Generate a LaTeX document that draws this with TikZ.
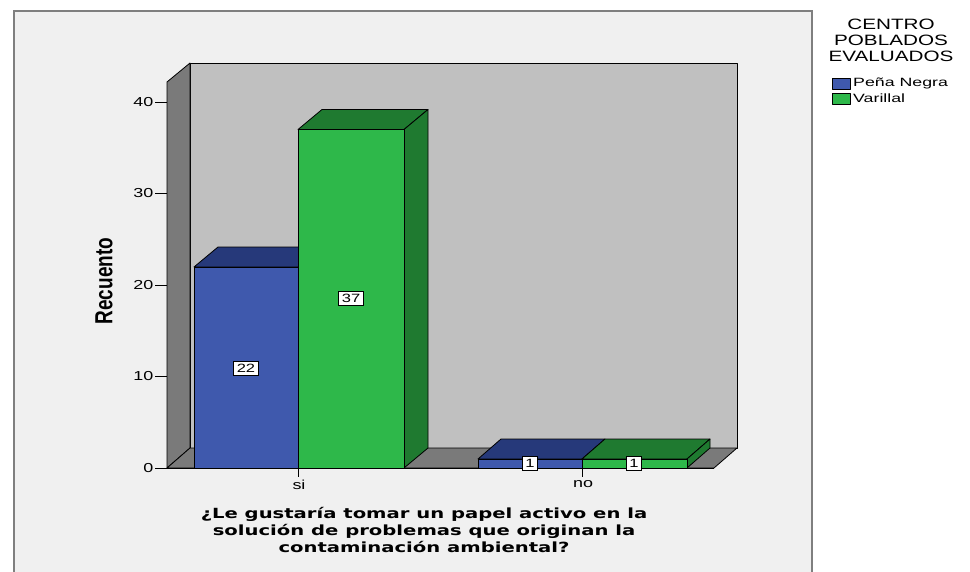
\documentclass[tikz,border=0pt]{standalone}
\usepackage{fontspec}
\setmainfont{Liberation Sans}
\newfontfamily\titlefont{DejaVu Sans}
\newcommand\sx[1]{\scalebox{1.38}[1]{#1}}
\begin{document}
\begin{tikzpicture}[x=1pt,y=-1pt,
  outl/.style={draw=black,line width=0.8pt,line join=round},
  wall/.style={outl,fill=wallgray},
  sidewall/.style={outl,fill=sidegray},
  bluefront/.style={outl,fill=bfront},
  bluedark/.style={outl,fill=bdark},
  greenfront/.style={outl,fill=gfront},
  greendark/.style={outl,fill=gdark},
  vallabel/.style={draw=black,fill=white,line width=0.6pt,inner xsep=3pt,inner ysep=3pt,font=\fontsize{12}{12}\selectfont},
  ticklab/.style={anchor=east,inner sep=1.5pt,font=\fontsize{13}{13}\selectfont},
  catlab/.style={anchor=north,inner sep=1pt,font=\fontsize{13}{13}\selectfont},
  legtext/.style={anchor=west,inner sep=1pt,font=\fontsize{12}{13}\selectfont}
]
\definecolor{framebg}{HTML}{F0F0F0}
\definecolor{wallgray}{HTML}{C0C0C0}
\definecolor{sidegray}{HTML}{7A7A7A}
\definecolor{bfront}{HTML}{3F59AD}
\definecolor{bdark}{HTML}{26397A}
\definecolor{gfront}{HTML}{2EB84A}
\definecolor{gdark}{HTML}{1F7A30}
\definecolor{framecol}{HTML}{7F7F7F}
\useasboundingbox (0,0) rectangle (970,571);
\fill[white] (0,0) rectangle (970,571);
% chart frame
\fill[framebg] (14,11) rectangle (812,575);
\draw[framecol,line width=1.5pt] (14,575) -- (14,11) -- (812,11) -- (812,575);
% back wall
\path[wall] (190,63) rectangle (737,448);
% side wall
\path[sidewall] (167,82) -- (190,63) -- (190,448) -- (167,468) -- cycle;
% floor
\path[sidewall] (167,468) -- (190,448) -- (737,448) -- (714,468) -- cycle;
% axis ticks
\foreach \v/\yy in {0/468,10/376.5,20/285,30/193.5,40/102}{
  \draw[line width=0.8pt] (155,\yy) -- (167,\yy);
  \node[ticklab] (t\v) at (155,\yy) {\sx{\v}};
}
% Peña Negra si (22)
\path[bluedark] (194,267) -- (218,247) -- (322,247) -- (298,267) -- cycle;
\path[bluefront] (194,267) rectangle (298,468);
% Varillal si (37)
\path[greendark] (298,129.5) -- (322,109.5) -- (428,109.5) -- (404,129.5) -- cycle;
\path[greendark] (404,129.5) -- (428,109.5) -- (428,448) -- (404,468) -- cycle;
\path[greenfront] (298,129.5) rectangle (404,468);
% "no" bars
\path[bluedark] (478,459) -- (501,439) -- (605,439) -- (582,459) -- cycle;
\path[bluefront] (478,459) rectangle (582,468);
\path[greendark] (582,459) -- (605,439) -- (710,439) -- (687,459) -- cycle;
\path[greendark] (687,459) -- (710,439) -- (710,448) -- (687,468) -- cycle;
\path[greenfront] (582,459) rectangle (687,468);
% baseline
\draw[line width=0.8pt] (155,468) -- (714,468);
% category ticks
\draw[line width=0.8pt] (298,468) -- (298,477);
\draw[line width=0.8pt] (582,468) -- (582,477);
\node[catlab] (csi) at (299,479) {\sx{si}};
\node[catlab] (cno) at (583,479) {\sx{no}};
% value labels
\node[vallabel] (v22) at (246,368) {\sx{22}};
\node[vallabel] (v37) at (351,298.5) {\sx{37}};
\node[vallabel] (v1a) at (530,463) {\sx{1}};
\node[vallabel] (v1b) at (634,463) {\sx{1}};
% axis titles
\node[rotate=90,font=\fontsize{19}{19}\selectfont\bfseries] (ylab) at (104,281) {\scalebox{1}[1.3]{Recuento}};
\node[font=\titlefont\fontsize{14}{17}\selectfont\bfseries] (xlab) at (424,532)
  {\scalebox{1.4}[1]{\begin{tabular}{@{}c@{}}¿Le gustaría tomar un papel activo en la\\solución de problemas que originan la\\contaminación ambiental?\end{tabular}}};
% legend
\node[font=\fontsize{15}{16}\selectfont] (legt) at (891,42) {\scalebox{1.38}[1]{\begin{tabular}{@{}c@{}}CENTRO\\POBLADOS\\EVALUADOS\end{tabular}}};
\path[outl,fill=bfront,line width=0.6pt] (832,78) rectangle (850,89);
\node[legtext] (l1) at (852,83.5) {\scalebox{1.48}[1]{Peña Negra}};
\path[outl,fill=gfront,line width=0.6pt] (832,93) rectangle (850,104);
\node[legtext] (l2) at (852,98.5) {\scalebox{1.48}[1]{Varillal}};
\end{tikzpicture}
\end{document}
